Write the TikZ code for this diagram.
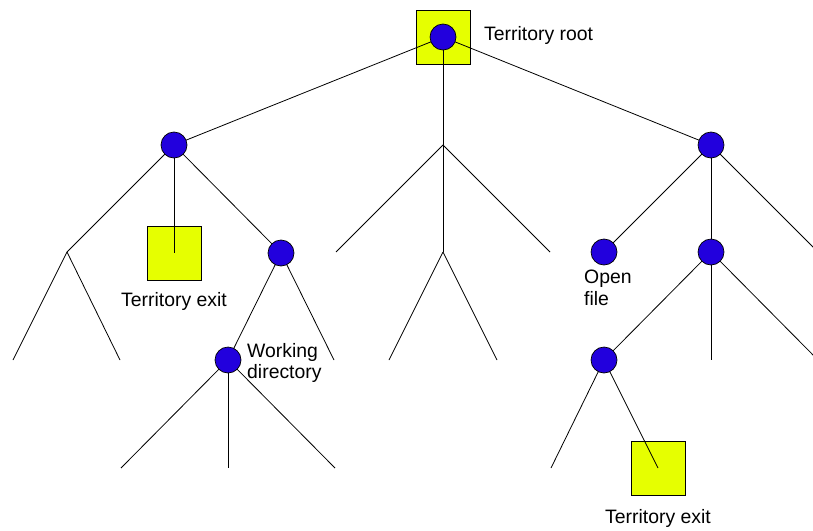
\documentclass[tikz,border=0pt]{standalone}
\usepackage{fontspec}
\setmainfont{Liberation Sans}
\definecolor{nodeblue}{RGB}{34,0,221}
\definecolor{termyellow}{RGB}{230,255,0}
\begin{document}
\begin{tikzpicture}[x=1pt,y=-1pt,
  dirnode/.style={circle,draw=black,fill=nodeblue,minimum size=26pt,inner sep=0pt,line width=0.7pt},
  termbox/.style={rectangle,draw=black,fill=termyellow,minimum size=54pt,inner sep=0pt,line width=0.7pt},
  edge/.style={draw=black,line width=0.8pt},
  lbl/.style={font=\fontsize{19.4}{21.5}\selectfont,inner sep=0pt}]
\useasboundingbox (0,0) rectangle (813,530);
\clip (0,0) rectangle (813,530);
% squares (territory boundaries)
\node[termbox] (rootbox) at (443,37) {};
\node[termbox] (exitA) at (174,253) {};
\node[termbox] (exitB) at (658,468) {};
% branch points and leaves
\coordinate (M) at (443,145);
\coordinate (LL) at (67,252);
\coordinate (LL1) at (13,360);
\coordinate (LL2) at (120,360);
\coordinate (LR2) at (334,360);
\coordinate (W1) at (121,468);
\coordinate (W2) at (228,468);
\coordinate (W3) at (335,468);
\coordinate (M1) at (336,252);
\coordinate (M2) at (443,252);
\coordinate (M3) at (550,252);
\coordinate (M21) at (389,360);
\coordinate (M22) at (497,360);
\coordinate (R3) at (818,252);
\coordinate (RR2) at (711,360);
\coordinate (RR3) at (818,360);
\coordinate (F1) at (551,468);
% edges
\path[edge] (443,37) coordinate (rootc) -- (174,145) coordinate (Lc);
\path[edge] (rootc) -- (M);
\path[edge] (rootc) -- (711,145) coordinate (Rc);
\path[edge] (Lc) -- (LL); \path[edge] (LL) -- (LL1); \path[edge] (LL) -- (LL2);
\path[edge] (Lc) -- (exitA.center);
\path[edge] (Lc) -- (281,253) coordinate (LRc);
\path[edge] (LRc) -- (228,360) coordinate (Wc);
\path[edge] (LRc) -- (LR2);
\path[edge] (Wc) -- (W1); \path[edge] (Wc) -- (W2); \path[edge] (Wc) -- (W3);
\path[edge] (M) -- (M1); \path[edge] (M) -- (M2); \path[edge] (M) -- (M3);
\path[edge] (M2) -- (M21); \path[edge] (M2) -- (M22);
\path[edge] (Rc) -- (604,252) coordinate (Oc);
\path[edge] (Rc) -- (711,252) coordinate (RRc);
\path[edge] (Rc) -- (R3);
\path[edge] (RRc) -- (604,360) coordinate (Fc);
\path[edge] (RRc) -- (RR2);
\path[edge] (RRc) -- (RR3);
\path[edge] (Fc) -- (F1);
\path[edge] (Fc) -- (exitB.center);
% directory nodes
\node[dirnode] (root) at (rootc) {};
\node[dirnode] (L) at (Lc) {};
\node[dirnode] (R) at (Rc) {};
\node[dirnode] (LR) at (LRc) {};
\node[dirnode] (W) at (Wc) {};
\node[dirnode] (O) at (Oc) {};
\node[dirnode] (RR) at (RRc) {};
\node[dirnode] (F) at (Fc) {};
% labels
\node[lbl,anchor=west] (troot) at (484,35.5) {Territory root};
\node[lbl] (texitA) at (174,301.5) {Territory exit};
\node[lbl,anchor=west,align=left] (twd) at (247,363) {Working\\directory};
\node[lbl,anchor=west,align=left] (tof) at (584,288) {Open\\file};
\node[lbl] (texitB) at (658,518.5) {Territory exit};
\end{tikzpicture}
\end{document}
